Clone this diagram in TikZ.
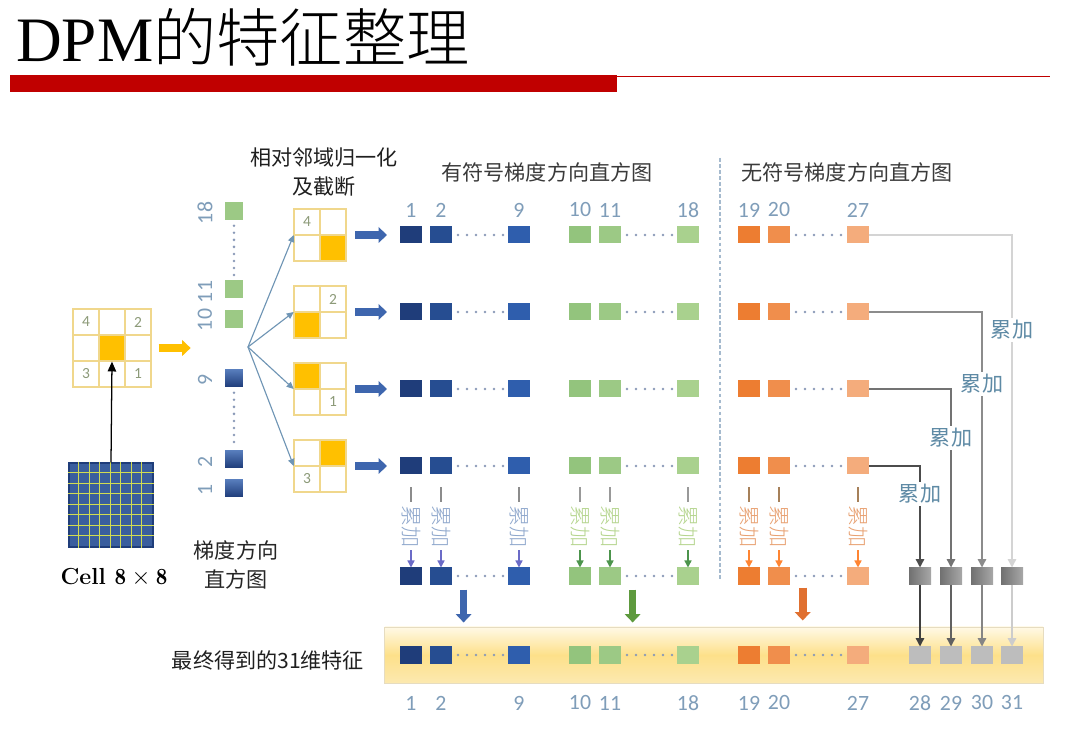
\documentclass[tikz,border=0pt]{standalone}
\usepackage{fontspec}
\newfontfamily\cjk{Noto Sans CJK SC}
\newfontfamily\cjklt{Noto Sans CJK SC}[UprightFont=* Light]
\newfontfamily\numf{Carlito}
\newfontfamily\tnr{Liberation Serif}
\usetikzlibrary{arrows.meta,calc}
\definecolor{cB1}{HTML}{1F3D7A}
\definecolor{cB2}{HTML}{264D91}
\definecolor{cB3}{HTML}{2F5EAD}
\definecolor{cG1}{HTML}{93C47D}
\definecolor{cG2}{HTML}{9CC985}
\definecolor{cG3}{HTML}{A9D18E}
\definecolor{cO1}{HTML}{ED7D31}
\definecolor{cO2}{HTML}{F08E4C}
\definecolor{cO3}{HTML}{F4AC7C}
\definecolor{numc}{HTML}{7F9DB9}
\definecolor{gridc}{HTML}{F0D78C}
\definecolor{goldc}{HTML}{FFC000}
\definecolor{redbar}{HTML}{C00000}
\definecolor{cellnum}{HTML}{8C9A78}
\definecolor{dotc}{HTML}{8A9AB8}
\definecolor{headc}{HTML}{3A3A3A}
\definecolor{accc}{HTML}{5E8AA5}
\definecolor{fblue}{HTML}{3E66AE}
\definecolor{fgreen}{HTML}{5E9A3E}
\definecolor{forange}{HTML}{E07030}
\definecolor{fanc}{HTML}{6F95B5}
\definecolor{gA}{HTML}{707070}
\definecolor{gB}{HTML}{A8A8A8}
\definecolor{gF}{HTML}{BDBDBD}
\definecolor{acctB}{HTML}{8EA7CC}
\definecolor{acctG}{HTML}{B5D58E}
\definecolor{acctO}{HTML}{E8A070}
\definecolor{bandT}{HTML}{FFF9E6}
\definecolor{bandM}{HTML}{FDE08A}
\definecolor{bandB}{HTML}{FCE9B0}
\definecolor{bandc}{HTML}{E6DCC0}
\definecolor{cellblue}{HTML}{3A5E9E}
\definecolor{cellline}{HTML}{D2DC52}
\begin{document}
\begin{tikzpicture}[x=0.025cm,y=-0.025cm,
 sq/.style={minimum width=0.55cm, minimum height=0.425cm, inner sep=0pt, outer sep=0pt},
 vsq/.style={minimum width=0.44cm, minimum height=0.44cm, inner sep=0pt, outer sep=0pt},
 cellc/.style={minimum size=0.65cm, inner sep=0pt, draw=gridc, line width=0.9pt, font=\fontsize{11}{12}\selectfont\numf, text=cellnum},
 numl/.style={font=\fontsize{15.5}{18}\selectfont\numf, text=numc, inner sep=1pt},
 cjkl/.style={font=\fontsize{15}{18}\selectfont\cjk},
 dotrow/.style={draw=dotc, line width=2pt, dash pattern=on 0pt off 6.4pt, line cap=round},
 fat/.style={line width=5.5pt, -{Triangle[length=6pt,width=11pt]}},
 fanarr/.style={draw=fanc, line width=0.8pt, -{Triangle[length=5pt,width=4.5pt]}},
 segB/.style={draw=black!45, line width=1pt},
 segG/.style={draw=black!40, line width=1pt},
 segO/.style={draw=brown!60!gray, line width=1pt},
 arrB/.style={draw=blue!45!gray!80, line width=1pt, -{Triangle[length=5pt,width=5pt]}},
 arrG/.style={draw=green!40!black!70, line width=1pt, -{Triangle[length=5pt,width=5pt]}},
 arrO/.style={draw=orange!80!red!80, line width=1pt, -{Triangle[length=5pt,width=5pt]}},
 rarr/.style={line width=1pt, -{Triangle[length=6pt,width=6pt]}},
]
\useasboundingbox (0,0) rectangle (1080,740);
\fill[white] (0,0) rectangle (1080,740);

% title
\node[anchor=base west, inner sep=0pt] (title) at (16,62) {\fontsize{45}{50}\selectfont\tnr DPM\cjklt 的特征整理};
\fill[redbar] (10,75) rectangle (617,92);
\draw[redbar, line width=0.9pt] (617,76.5) -- (1050,76.5);

% left 3x3 grid
\node[cellc] (n11) at (86,322) {4};
\node[cellc] (n12) at (112,322) {};
\node[cellc] (n13) at (138,322) {2};
\node[cellc] (n21) at (86,348) {};
\node[cellc] (n23) at (138,348) {};
\node[cellc] (n31) at (86,374) {3};
\node[cellc] (n32) at (112,374) {};
\node[cellc] (n33) at (138,374) {1};
\node[cellc, fill=goldc] (n22) at (112,348) {};

% cell 8x8
\node[minimum size=2.1cm, inner sep=0pt, fill=cellblue, draw=cB1, line width=1pt] (cg) at (111,505) {};
\foreach \i in {1,...,7}{
  \draw[cellline, line width=0.7pt] ($(cg.north west)+({\i*10.5},0)$) -- ($(cg.south west)+({\i*10.5},0)$);
  \draw[cellline, line width=0.7pt] ($(cg.north west)+(0,{\i*10.5})$) -- ($(cg.north east)+(0,{\i*10.5})$);
}
\draw[line width=0.9pt, -{Triangle[length=7pt,width=6pt]}] (cg.north) -- (n22.south);
\node (celllbl) at (114,577) {\fontsize{16.5}{18}\selectfont\bfseries Cell $\mathbf{8\times 8}$};

% orange fat arrow
\draw[fat, goldc] ($(n23.east)+(7,0)$) -- ++(32,0);

% vertical histogram
\node[vsq, fill=cG2] (v18) at (234,211) {};
\node[vsq, fill=cG2] (v11) at (234,289) {};
\node[vsq, fill=cG2] (v10) at (234,319) {};
\node[vsq, top color=cB3!80!white, bottom color=cB1] (v9) at (234,378) {};
\node[vsq, top color=cB3!80!white, bottom color=cB1] (v2) at (234,459) {};
\node[vsq, top color=cB3!80!white, bottom color=cB1] (v1) at (234,488) {};
\draw[dotrow, dash pattern=on 0pt off 5pt] ($(v18.south)+(0,6)$) -- ($(v11.north)+(0,-4)$);
\draw[dotrow, dash pattern=on 0pt off 5pt] ($(v9.south)+(0,6)$) -- ($(v2.north)+(0,-4)$);
\node[numl, rotate=90] (vl18) at (205,213) {18};
\node[numl, rotate=90] (vl11) at (205,292) {11};
\node[numl, rotate=90] (vl10) at (205,320) {10};
\node[numl, rotate=90] (vl9) at (205,380) {9};
\node[numl, rotate=90] (vl2) at (205,462) {2};
\node[numl, rotate=90] (vl1) at (205,490) {1};
\node[align=center, font=\fontsize{15}{21}\selectfont\cjk, text=black!85] (histlbl) at (236,565) {梯度方向\\直方图};

% normalisation title
\node[align=center, font=\fontsize{15}{20.5}\selectfont\cjk, text=black!88] (normt) at (324,172) {相对邻域归一化\\及截断};

% 2x2 grids
\node[minimum size=1.3cm, inner sep=0pt] (G1) at (320,235) {};
\node[minimum size=1.3cm, inner sep=0pt] (G2) at (320,312) {};
\node[minimum size=1.3cm, inner sep=0pt] (G3) at (320,389) {};
\node[minimum size=1.3cm, inner sep=0pt] (G4) at (320,466) {};
% grid 1
\node[cellc] (q1a) at (307,222) {4};
\node[cellc] (q1b) at (333,222) {};
\node[cellc] (q1c) at (307,248) {};
\node[cellc, fill=goldc] (q1d) at (333,248) {};
% grid 2
\node[cellc] (q2a) at (307,299) {};
\node[cellc] (q2b) at (333,299) {2};
\node[cellc] (q2d) at (333,325) {};
\node[cellc, fill=goldc] (q2c) at (307,325) {};
% grid 3
\node[cellc] (q3b) at (333,376) {};
\node[cellc] (q3c) at (307,402) {};
\node[cellc] (q3d) at (333,402) {1};
\node[cellc, fill=goldc] (q3a) at (307,376) {};
% grid 4
\node[cellc] (q4a) at (307,453) {};
\node[cellc] (q4c) at (307,479) {3};
\node[cellc] (q4d) at (333,479) {};
\node[cellc, fill=goldc] (q4b) at (333,453) {};

\coordinate (fan) at (248,347);
\foreach \k in {1,...,4} \draw[fanarr] (fan) -- (G\k.west);

% headings
\node[cjkl, text=headc] (h1) at (547,172) {有符号梯度方向直方图};
\node[cjkl, text=headc] (h2) at (847,172) {无符号梯度方向直方图};
\draw[draw=numc!70, line width=0.9pt, dash pattern=on 2.5pt off 1.8pt] (720,158) -- (720,580);

% final band
\node[draw=bandc, line width=0.6pt, top color=bandT, bottom color=bandB, middle color=bandM, minimum width=16.45cm, minimum height=1.4cm, inner sep=0pt] (band) at (714,655) {};
\node[cjkl, text=black!88] (flab) at (268,660) {最终得到的31维特征};

% feature rows
\foreach \r/\y in {1/235,2/312,3/389,4/466,5/576,6/655}{
  \foreach \c/\x/\col in {1/411/cB1,2/441/cB2,3/519/cB3,4/580/cG1,5/610/cG2,6/688/cG3,7/749/cO1,8/779/cO2,9/858/cO3}{
    \node[sq, fill=\col] (s\r-\c) at (\x,\y) {};
  }
  \draw[dotrow] ($(s\r-2.east)+(6,0)$) -- ($(s\r-3.west)+(-4,0)$);
  \draw[dotrow] ($(s\r-5.east)+(6,0)$) -- ($(s\r-6.west)+(-4,0)$);
  \draw[dotrow] ($(s\r-8.east)+(6,0)$) -- ($(s\r-9.west)+(-4,0)$);
}
\foreach \k in {1,...,4}
  \draw[fat, fblue] ($(G\k.east)+(9,0)$) -- ($(s\k-1.west)+(-13,0)$);

% numbers
\foreach \c/\t in {1/1,2/2,3/9,4/10,5/11,6/18,7/19,8/20,9/27}{
  \node[numl] (tn\c) at ($(s1-\c)+(0,-25)$) {\t};
  \node[numl] (bn\c) at ($(s6-\c)+(0,48)$) {\t};
}

% vertical accumulation
\foreach \c/\g in {1/B,2/B,3/B,4/G,5/G,6/G,7/O,8/O,9/O}{
  \draw[seg\g] ($(s4-\c.south)+(0,13)$) -- ($(s4-\c.south)+(0,28)$);
  \node[font=\fontsize{15}{18}\selectfont\cjklt, rotate=-90, text=acct\g, inner sep=0pt] (ta\c) at ($(s4-\c.south)+(0,52)$) {累加};
  \draw[arr\g] ($(s5-\c.north)+(0,-17)$) -- (s5-\c.north);
}

% fat down arrows
\draw[fat, fblue] ($(s5-2.south)!0.29!(s5-3.south)+(0,5)$) -- ++(0,33);
\draw[fat, fgreen] ($(s5-5.south)!0.29!(s5-6.south)+(0,5)$) -- ++(0,33);
\draw[fat, forange] ($(s5-8.south)!0.3!(s5-9.south)+(0,3)$) -- ++(0,33);

% gray squares
\foreach \k/\x/\t in {1/920/28,2/951/29,3/982/30,4/1012/31}{
  \node[sq, left color=gA, right color=gB] (ga\k) at (\x,576) {};
  \node[sq, fill=gF] (gf\k) at (\x,655) {};
  \node[numl] (gn\k) at ($(gf\k)+(0,48)$) {\t};
}
\draw[rarr, draw=black!17] (s1-9.east) -| (ga4.north);
\draw[rarr, draw=black!45] (s2-9.east) -| (ga3.north);
\draw[rarr, draw=black!55] (s3-9.east) -| (ga2.north);
\draw[rarr, draw=black!70] (s4-9.east) -| (ga1.north);
\node[cjkl, text=accc, fill=white, inner sep=1.5pt] (acc1) at (1012,330) {累加};
\node[cjkl, text=accc, fill=white, inner sep=1.5pt] (acc2) at (982,384) {累加};
\node[cjkl, text=accc, fill=white, inner sep=1.5pt] (acc3) at (951,438) {累加};
\node[cjkl, text=accc, fill=white, inner sep=1.5pt] (acc4) at (920,494) {累加};
\draw[rarr, draw=black!75] (ga1.south) -- (gf1.north);
\draw[rarr, draw=black!62] (ga2.south) -- (gf2.north);
\draw[rarr, draw=black!48] (ga3.south) -- (gf3.north);
\draw[rarr, draw=black!20] (ga4.south) -- (gf4.north);
\end{tikzpicture}
\end{document}
